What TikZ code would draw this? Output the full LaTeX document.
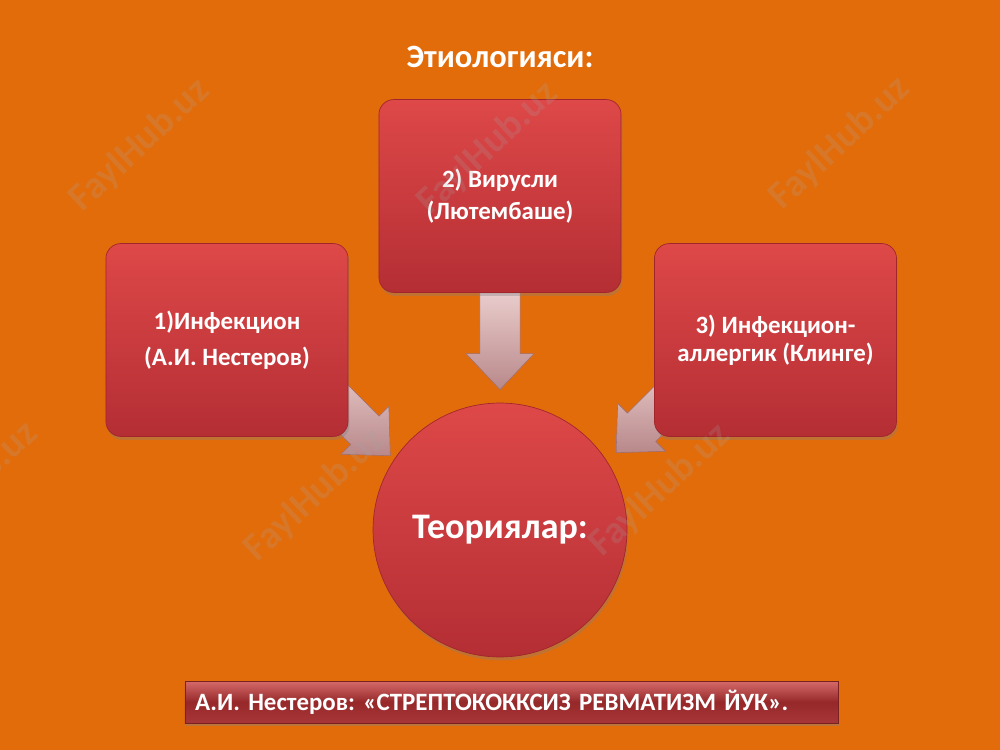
\documentclass[tikz,border=0pt]{standalone}
\usepackage{fontspec}
\setmainfont{Carlito}
\usetikzlibrary{shadows,calc}
\definecolor{bg}{RGB}{227,108,10}
\definecolor{boxtop}{RGB}{222,72,72}
\definecolor{boxbot}{RGB}{180,46,52}
\definecolor{boxedge}{RGB}{160,38,44}
\definecolor{arrtop}{RGB}{234,204,204}
\definecolor{arrbot}{RGB}{184,136,138}
\definecolor{arredge}{RGB}{160,110,110}
\definecolor{bantop}{RGB}{214,106,106}
\definecolor{banmid}{RGB}{150,40,42}
\definecolor{banbot}{RGB}{168,54,56}
\definecolor{wm}{RGB}{165,165,165}
\pgfdeclarelayer{back}
\pgfdeclarelayer{arr}
\pgfsetlayers{back,arr,main}
\newcommand{\blockarrow}[2]{%
  \path[blockarrow] let \p1=(#1), \p2=(#2),
    \n1={atan2(\y2-\y1,\x2-\x1)}, \n2={veclen(\x2-\x1,\y2-\y1)}, \n3={\n2-26pt}
    in [shift={(\p1)}, rotate=\n1]
    (0pt,-14.5pt) -- (\n3,-14.5pt) -- (\n3,-24.5pt) -- (\n2,0pt)
    -- (\n3,24.5pt) -- (\n3,14.5pt) -- (0pt,14.5pt) -- cycle;}
\begin{document}
\frenchspacing
\begin{tikzpicture}[x=0.254mm,y=-0.254mm,
  theorybox/.style={rectangle, rounded corners=3.8mm, top color=boxtop, bottom color=boxbot,
    draw=boxedge, line width=0.5pt, minimum width=61.5mm, minimum height=49mm,
    text=white, font=\bfseries\fontsize{18}{23}\selectfont, align=center,
    drop shadow={shadow xshift=1pt,shadow yshift=-2.5pt,opacity=0.35}},
  theorycircle/.style={circle, top color=boxtop, bottom color=boxbot, draw=boxedge,
    line width=0.5pt, minimum size=64.5mm, inner sep=0pt, text=white,
    font=\bfseries\fontsize{26}{30}\selectfont,
    drop shadow={shadow xshift=1pt,shadow yshift=-2.5pt,opacity=0.35}},
  blockarrow/.style={top color=arrtop, bottom color=arrbot, draw=arredge, line width=0.4pt},
  banner/.style={rectangle, top color=bantop, bottom color=banbot, middle color=banmid,
    draw=banmid!80!black, line width=0.4pt, minimum width=165.9mm, minimum height=10.67mm,
    inner xsep=2.6mm, inner ysep=0pt, text width=160.7mm, align=left, text=white,
    font=\bfseries\fontsize{18}{22}\selectfont,
    drop shadow={shadow xshift=1pt,shadow yshift=-2.5pt,opacity=0.4}},
  titletext/.style={text=white, font=\bfseries\fontsize{23.5}{28}\selectfont},
  watermark/.style={text=wm, text opacity=0.2, rotate=43,
    font=\bfseries\fontsize{28}{30}\selectfont}]
\begin{pgfonlayer}{back}
\fill[bg] (0,0) rectangle (1000,750);
\end{pgfonlayer}
\useasboundingbox (0,0) rectangle (1000,750);

\node[titletext] (title) at (500,57) {Этиологияси:};

\node[theorybox] (left) at (227,340) {1)Инфекцион\\[3pt](А.И. Нестеров)};
\node[theorybox] (top) at (500,196) {2) Вирусли\\(Лютембаше)};
\node[theorybox, font=\bfseries\fontsize{18}{20}\selectfont] (right) at (775.5,340) {3) Инфекцион-\\аллергик (Клинге)};
\node[theorycircle] (circ) at (500,530) {Теориялар:};

\coordinate (a1s) at ($(left.south east)+(-36,-59)$);
\coordinate (a1t) at ($(left.south east)+(42,19)$);
\coordinate (a2s) at (top.south);
\coordinate (a2t) at ($(circ.north)+(0,-13)$);
\coordinate (a3s) at ($(right.south west)+(37,-59)$);
\coordinate (a3t) at ($(right.south west)+(-38,16)$);
\begin{pgfonlayer}{arr}
\blockarrow{a2s}{a2t}
\blockarrow{a1s}{a1t}
\blockarrow{a3s}{a3t}
\end{pgfonlayer}

\node[banner] (note) at (511.5,702) {А.И. Нестеров: «СТРЕПТОКОККСИЗ РЕВМАТИЗМ ЙУК».};

\node[watermark] (w1) at (140,145) {FaylHub.uz};
\node[watermark] (w2) at (488,148) {FaylHub.uz};
\node[watermark] (w3) at (840,143) {FaylHub.uz};
\node[watermark] (w4) at (-32,488) {FaylHub.uz};
\node[watermark] (w5) at (315,495) {FaylHub.uz};
\node[watermark] (w6) at (660,490) {FaylHub.uz};
\end{tikzpicture}
\end{document}
